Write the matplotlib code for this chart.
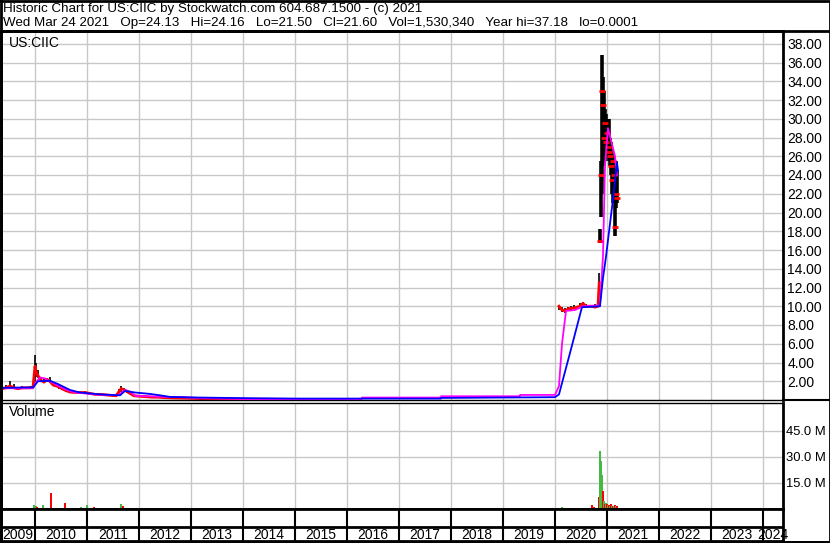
import matplotlib.pyplot as plt
from matplotlib.lines import Line2D
import numpy as np

plt.rcParams["font.family"] = ["Liberation Sans", "DejaVu Sans"]

W, H = 830, 543

# --- price data (decimal year, close, high, low) ---
early_dates = [2009.365, 2009.442, 2009.519, 2009.596, 2009.673, 2009.75, 2009.827, 2009.904,
               2009.962, 2010.0, 2010.019, 2010.058, 2010.115, 2010.173, 2010.231, 2010.288,
               2010.346, 2010.404, 2010.462, 2010.519, 2010.596, 2010.673, 2010.769, 2010.865,
               2010.962, 2011.058, 2011.154, 2011.25, 2011.346, 2011.442, 2011.558, 2011.615,
               2011.654, 2011.712, 2011.769, 2011.827, 2011.904, 2012.019, 2012.135, 2012.25,
               2012.365, 2012.5, 2012.635, 2012.788, 2012.981, 2013.173, 2013.462, 2013.75,
               2014.135, 2014.519, 2014.904, 2015.288, 2015.538]
early_close = [1.2, 1.3, 1.5, 1.3, 1.2, 1.3, 1.3, 1.3, 1.4, 3.6, 3.0, 2.6, 2.1, 1.9, 2.2, 2.0,
               1.6, 1.5, 1.4, 1.2, 1.0, 0.85, 0.8, 0.8, 0.8, 0.7, 0.6, 0.6, 0.55, 0.5, 0.45, 0.9,
               1.2, 1.1, 0.9, 0.7, 0.45, 0.4, 0.35, 0.3, 0.3, 0.25, 0.22, 0.2, 0.18, 0.15, 0.12,
               0.1, 0.08, 0.07, 0.06, 0.05, 0.05]
early_high = [1.5, 1.6, 2.0, 1.7, 1.4, 1.5, 1.4, 1.5, 1.6, 4.75, 4.0, 3.2, 2.5, 2.2, 2.4, 2.5,
              1.9, 1.8, 1.6, 1.4, 1.2, 1.0, 0.9, 0.9, 0.95, 0.8, 0.7, 0.65, 0.6, 0.55, 0.5, 1.2,
              1.45, 1.3, 1.1, 0.9, 0.6, 0.5, 0.45, 0.4, 0.35, 0.3, 0.35, 0.25, 0.2, 0.2, 0.15,
              0.12, 0.1, 0.09, 0.08, 0.06, 0.06]
early_low = [1.1, 1.2, 1.2, 1.2, 1.1, 1.2, 1.2, 1.2, 1.3, 1.6, 2.5, 2.3, 1.9, 1.8, 1.9, 1.8,
             1.5, 1.4, 1.2, 1.1, 0.9, 0.8, 0.7, 0.75, 0.7, 0.6, 0.55, 0.5, 0.5, 0.45, 0.4, 0.5,
             0.9, 0.9, 0.8, 0.6, 0.4, 0.35, 0.3, 0.28, 0.25, 0.2, 0.2, 0.15, 0.15, 0.12, 0.1,
             0.08, 0.06, 0.05, 0.05, 0.04, 0.04]

mid_dates = [2020.077, 2020.135, 2020.192, 2020.25, 2020.308, 2020.365, 2020.423, 2020.481,
             2020.538, 2020.596, 2020.654, 2020.712, 2020.769, 2020.827, 2020.85]
mid_close = [10.0, 9.6, 9.5, 9.7, 9.8, 9.8, 9.9, 10.0, 10.3, 10.0, 10.0, 10.0, 9.9, 10.0, 12.5]
mid_high = [10.1, 9.9, 9.8, 9.9, 10.0, 10.1, 10.0, 10.3, 10.5, 10.2, 10.1, 10.1, 10.2, 10.3, 13.6]
mid_low = [9.6, 9.4, 9.3, 9.5, 9.6, 9.7, 9.7, 9.8, 10.0, 9.9, 9.9, 9.9, 9.8, 9.9, 12.0]

late_dates = [2020.865, 2020.885, 2020.904, 2020.923, 2020.942, 2020.962, 2020.981, 2021.0,
              2021.019, 2021.038, 2021.058, 2021.077, 2021.096, 2021.115, 2021.135, 2021.154,
              2021.173, 2021.192]
late_close = [17.0, 24.0, 33.0, 31.5, 28.0, 29.5, 27.5, 28.5, 27.0, 26.5, 26.0, 25.0, 23.5,
              25.5, 24.0, 18.5, 22.0, 21.6]
late_high = [18.2, 25.5, 36.8, 34.5, 33.0, 31.0, 30.5, 30.0, 29.5, 30.0, 28.0, 27.5, 26.5,
             26.0, 25.5, 23.0, 25.5, 24.5]
late_low = [16.8, 19.5, 22.0, 25.0, 26.0, 25.5, 26.5, 26.0, 26.5, 25.5, 25.0, 24.0, 22.0,
            21.0, 21.5, 17.5, 20.5, 21.0]

# --- moving averages ---
ma_short_dates = [2009.365, 2009.962, 2010.019, 2010.096, 2010.192, 2010.385, 2010.577, 2010.769,
                  2011.25, 2011.596, 2011.731, 2011.827, 2011.923, 2012.404, 2012.788, 2013.173,
                  2014.135, 2016.288, 2016.288, 2017.808, 2017.808, 2019.327, 2019.327, 2020.0,
                  2020.077, 2020.135, 2020.212, 2020.385, 2020.538, 2020.865, 2020.885, 2020.923,
                  2020.962, 2021.019, 2021.096, 2021.154, 2021.192]
ma_short = [1.25, 1.25, 1.9, 2.4, 2.3, 1.7, 1.15, 0.8, 0.55, 0.5, 1.07, 0.9, 0.45, 0.35, 0.3, 0.2,
            0.1, 0.1, 0.26, 0.26, 0.4, 0.4, 0.54, 0.54, 1.5, 6.0, 9.5, 9.6, 10.0, 10.1, 12.0, 15.3,
            25.0, 29.0, 27.3, 26.0, 24.0]
ma_long_dates = [2009.365, 2009.962, 2010.058, 2010.288, 2010.442, 2010.673, 2010.865, 2011.25,
                 2011.635, 2011.731, 2011.923, 2012.212, 2012.404, 2012.596, 2013.173, 2014.135,
                 2015.096, 2017.808, 2017.808, 2020.0, 2020.077, 2020.288, 2020.519, 2020.865,
                 2020.923, 2020.981, 2021.115, 2021.192, 2021.212]
ma_long = [1.3, 1.35, 2.0, 2.05, 1.7, 1.07, 0.8, 0.6, 0.5, 0.97, 0.8, 0.65, 0.5, 0.33, 0.26, 0.19,
           0.15, 0.15, 0.22, 0.3, 0.6, 5.0, 9.9, 10.0, 13.0, 15.3, 21.4, 25.3, 24.5]

# --- volume (decimal year, millions, up day) ---
vol_dates = [2009.365, 2009.442, 2009.519, 2009.596, 2009.673, 2009.75, 2009.827, 2009.904,
             2009.981, 2010.019, 2010.038, 2010.096, 2010.154, 2010.231, 2010.308, 2010.385,
             2010.481, 2010.577, 2010.673, 2010.769, 2010.885, 2010.942, 2011.0, 2011.058,
             2011.135, 2011.212, 2011.308, 2011.404, 2011.5, 2011.577, 2011.654, 2011.692,
             2011.731, 2011.827, 2011.942, 2012.058, 2012.173, 2012.308, 2012.442, 2012.596,
             2012.75, 2012.904, 2013.077, 2013.269, 2013.462, 2013.654, 2013.846, 2014.038,
             2014.231, 2014.423, 2014.615, 2014.808, 2015.0, 2015.192, 2015.385, 2015.519,
             2020.019, 2020.058, 2020.096, 2020.135, 2020.173, 2020.212, 2020.25, 2020.288,
             2020.327, 2020.365, 2020.404, 2020.442, 2020.481, 2020.519, 2020.558, 2020.596,
             2020.635, 2020.673, 2020.712, 2020.75, 2020.788, 2020.827, 2020.846,
             2020.865, 2020.885, 2020.904, 2020.923, 2020.942, 2020.962, 2020.981, 2021.0,
             2021.019, 2021.038, 2021.058, 2021.077, 2021.096, 2021.115, 2021.135, 2021.154,
             2021.173, 2021.192]
vol_m = [0.3, 0.2, 0.4, 0.2, 0.2, 0.3, 0.2, 0.3, 2.3, 2.0, 1.4, 0.5, 2.3, 0.4, 9.4, 0.5,
         0.3, 3.6, 0.3, 0.2, 0.9, 0.3, 2.3, 0.4, 0.9, 0.3, 0.3, 0.3, 0.2, 0.3, 2.8, 1.5,
         0.8, 0.3, 0.3, 0.3, 0.2, 0.3, 0.2, 0.2, 0.2, 0.3, 0.2, 0.2, 0.3, 0.2, 0.2, 0.2,
         0.2, 0.2, 0.2, 0.3, 0.2, 0.2, 0.2, 0.2,
         0.5, 0.4, 0.8, 0.9, 0.6, 0.5, 0.6, 0.5, 0.5, 0.6, 0.5, 0.6, 0.5, 0.6, 0.7, 0.6,
         0.8, 0.6, 2.4, 1.0, 0.8, 0.8, 7.0,
         33.5, 27.5, 19.5, 10.5, 4.5, 3.0, 3.5, 3.0, 2.5, 2.5, 2.0, 2.8, 2.0, 2.0, 1.5, 2.5,
         1.5, 1.8]
vol_up = [1, 0, 1, 0, 1, 0, 1, 0, 1, 1, 0, 0, 1, 0, 0, 0,
          1, 0, 0, 1, 1, 0, 1, 0, 0, 1, 0, 1, 0, 1, 1, 0,
          0, 1, 0, 0, 0, 1, 0, 1, 0, 0, 1, 0, 0, 1, 0, 0,
          1, 0, 1, 0, 0, 1, 0, 0,
          0, 1, 1, 1, 0, 0, 1, 0, 1, 0, 1, 0, 1, 1, 0, 1,
          0, 1, 0, 0, 1, 0, 0,
          1, 1, 1, 0, 1, 0, 1, 0, 1, 0, 1, 0, 1, 0, 1, 0,
          1, 0]

years = list(range(2010, 2025))
year_labels = list(range(2009, 2025))
price_ticks = list(range(2, 39, 2))
vol_ticks = [15, 30, 45]

X0, X1 = 2009.346, 2024.385
GRID = "#c8c8c8"
GREEN = "#44b944"


def rect(left, top, right, bottom):
    return [left / W, 1 - bottom / H, (right - left) / W, (bottom - top) / H]


def fig_line(fig, xs, ys, lw):
    fig.add_artist(Line2D([x / W for x in xs], [1 - y / H for y in ys],
                          color="black", lw=lw, transform=fig.transFigure))


fig = plt.figure(figsize=(8.3, 5.43), dpi=100)

# header
fig.text(3 / W, 1 - 9 / H, "Historic Chart for US:CIIC by Stockwatch.com 604.687.1500 - (c) 2021",
         fontsize=9.6, va="center", ha="left")
fig.text(3 / W, 1 - 23 / H,
         "Wed Mar 24 2021   Op=24.13   Hi=24.16   Lo=21.50   Cl=21.60   Vol=1,530,340   "
         "Year hi=37.18   lo=0.0001", fontsize=9.6, va="center", ha="left")

# price panel
ax = fig.add_axes(rect(1, 31, 783, 400))
ax.set_xlim(X0, X1)
ax.set_ylim(0, 39.36)
for y in price_ticks:
    ax.axhline(y, color=GRID, lw=1, zorder=0)
for x in years:
    ax.axvline(x, color=GRID, lw=1, zorder=0)

ax.plot(early_dates, early_close, color="red", lw=2, zorder=2)
ax.plot(mid_dates, mid_close, color="red", lw=2, zorder=2)
ax.vlines(early_dates, early_low, early_high, color="black", lw=1.2, zorder=1)
ax.vlines(mid_dates, mid_low, mid_high, color="black", lw=1.2, zorder=1)
ax.vlines(late_dates, late_low, late_high, color="black", lw=2.6, zorder=2)
ax.plot(late_dates, late_close, ls="none", marker="_", ms=4, mew=2, color="red", zorder=3)
ax.plot(ma_short_dates, ma_short, color="#ff00ff", lw=1.3, zorder=4)
ax.plot(ma_long_dates, ma_long, color="#0000ff", lw=1.3, zorder=4)

ax.set_xticks([])
ax.yaxis.tick_right()
ax.set_yticks(price_ticks)
ax.set_yticklabels(["%.2f" % v for v in price_ticks])
ax.tick_params(axis="y", length=0, pad=3, labelsize=10)
for s in ["left", "right", "top"]:
    ax.spines[s].set_linewidth(2)
ax.spines["bottom"].set_linewidth(1)
ax.text(8 / 782, 1 - 12 / 369, "US:CIIC", transform=ax.transAxes, fontsize=10,
        va="center", ha="left")

# volume panel
vax = fig.add_axes(rect(1, 402.5, 783, 509))
vax.set_xlim(X0, X1)
vax.set_ylim(0, 61.2)
for y in vol_ticks:
    vax.axhline(y, color=GRID, lw=1, zorder=0)
for x in years:
    vax.axvline(x, color=GRID, lw=1, zorder=0)
colors = [GREEN if u else "red" for u in vol_up]
vax.bar(vol_dates, vol_m, width=0.028, color=colors, zorder=2)
vax.set_xticks([])
vax.yaxis.tick_right()
vax.set_yticks(vol_ticks)
vax.set_yticklabels(["%.1f M" % v for v in vol_ticks])
vax.tick_params(axis="y", length=0, pad=2, labelsize=9.4)
vax.spines["left"].set_linewidth(2)
vax.spines["right"].set_linewidth(2)
vax.spines["top"].set_linewidth(1)
vax.spines["bottom"].set_linewidth(2)
vax.text(8 / 782, 1 - 10 / 106.5, "Volume", transform=vax.transAxes, fontsize=10,
         va="center", ha="left")

# date strip
dax = fig.add_axes(rect(1, 509, 783, 541))
dax.set_xlim(X0, X1)
dax.set_ylim(0, 1)
dax.set_xticks([])
dax.set_yticks([])
for x in years:
    dax.axvline(x, color="black", lw=1.5)
dax.axhline(0.44, color="black", lw=2)
for yr in year_labels:
    lo = max(yr, X0)
    hi = min(yr + 1, X1)
    dax.text((lo + hi) / 2, 0.2, str(yr), ha="center", va="center", fontsize=10)
for s in dax.spines.values():
    s.set_linewidth(2)

# frame lines
fig_line(fig, [0, 829], [30.5, 30.5], 2)
fig_line(fig, [783, 829], [400, 400], 1.5)
fig_line(fig, [0.5, 829.5, 829.5, 0.5, 0.5], [0.5, 0.5, 542, 542, 0.5], 2)
fig_line(fig, [0, 830], [541.5, 541.5], 2)

fig.savefig("out.png", dpi=100)
